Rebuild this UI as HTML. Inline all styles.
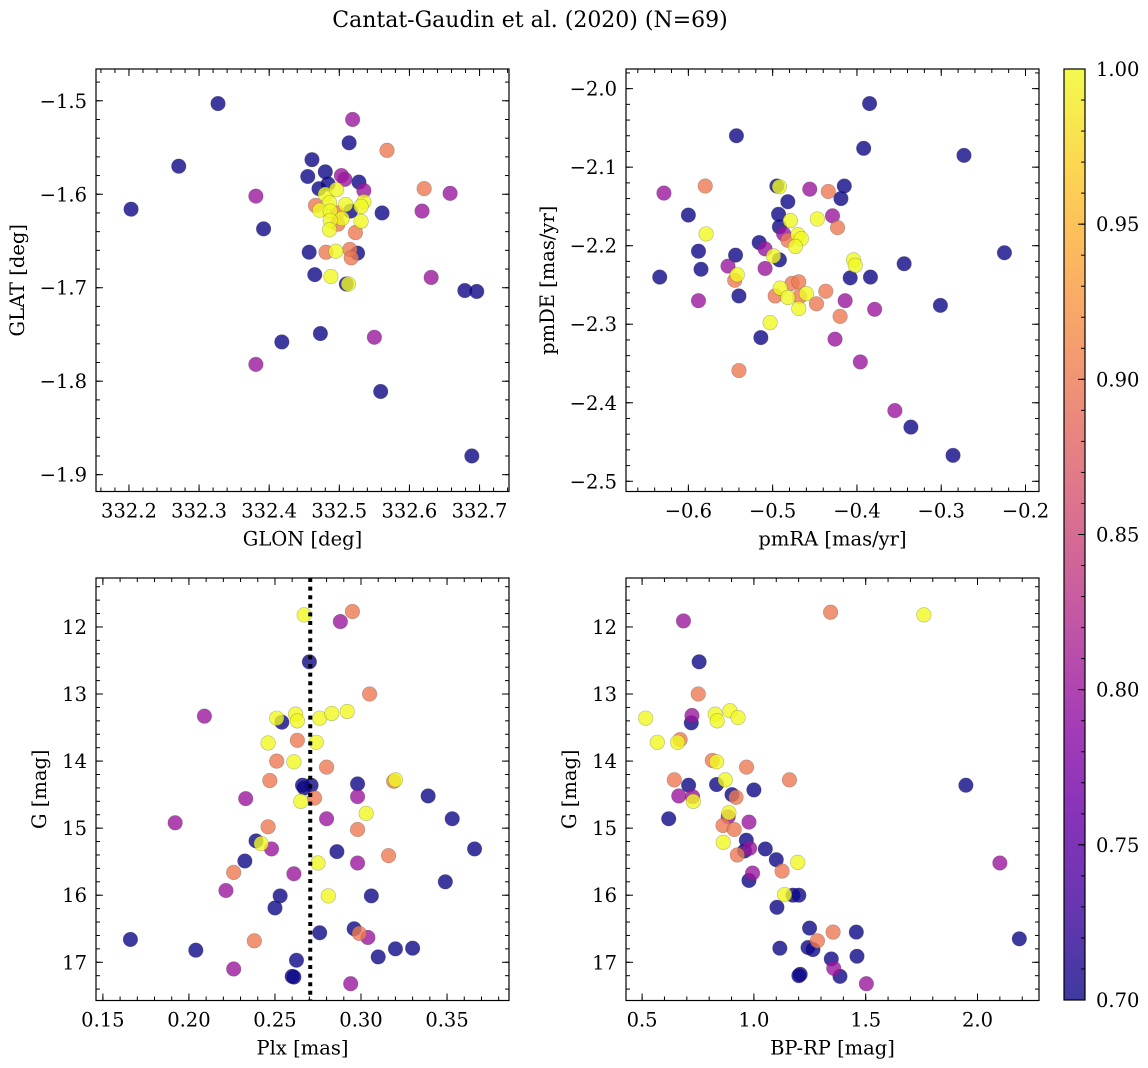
<!DOCTYPE html>
<html><head><meta charset="utf-8"><style>
html,body{margin:0;padding:0;background:#fff;}
svg{display:block;font-family:"DejaVu Serif","Liberation Serif",serif;}
</style></head><body>
<svg id="fig" width="1148" height="1068" viewBox="0 0 1148 1068" xmlns="http://www.w3.org/2000/svg">
<defs>
<linearGradient id="plasma" x1="0" y1="1" x2="0" y2="0">
<stop offset="0" stop-color="#0d0887"/><stop offset="0.1" stop-color="#41049d"/><stop offset="0.2" stop-color="#6a00a8"/><stop offset="0.3" stop-color="#8f0da4"/><stop offset="0.4" stop-color="#b12a90"/><stop offset="0.5" stop-color="#cc4778"/><stop offset="0.6" stop-color="#e16462"/><stop offset="0.7" stop-color="#f2844b"/><stop offset="0.8" stop-color="#fca636"/><stop offset="0.9" stop-color="#fcce25"/><stop offset="1" stop-color="#f0f921"/>
</linearGradient>
</defs>
<text x="530" y="27" font-size="22" text-anchor="middle">Cantat-Gaudin et al. (2020) (N=69)</text>
</svg>
<script>
// ---- data ----
const p1Glon=[332.327,332.271,332.203,332.381,332.392,332.381,332.418,332.473,332.519,332.514,332.568,332.461,332.455,332.480,332.503,332.508,332.528,332.535,332.471,332.484,332.621,332.658,332.618,332.561,332.466,332.480,332.496,332.486,332.509,332.472,332.487,332.497,332.516,332.535,332.531,332.504,332.487,332.498,332.486,332.531,332.523,332.457,332.481,332.495,332.515,332.526,332.517,332.465,332.488,332.510,332.513,332.631,332.679,332.696,332.550,332.559,332.689];
const p1Glat=[-1.503,-1.570,-1.616,-1.602,-1.637,-1.782,-1.758,-1.749,-1.520,-1.545,-1.553,-1.563,-1.581,-1.576,-1.580,-1.584,-1.587,-1.596,-1.594,-1.589,-1.594,-1.599,-1.618,-1.620,-1.612,-1.600,-1.595,-1.609,-1.611,-1.617,-1.618,-1.620,-1.618,-1.608,-1.613,-1.626,-1.628,-1.632,-1.638,-1.629,-1.641,-1.662,-1.662,-1.661,-1.659,-1.663,-1.668,-1.686,-1.688,-1.696,-1.696,-1.689,-1.703,-1.704,-1.753,-1.811,-1.880];
const p1Prob=[0.7,0.7,0.7,0.8,0.7,0.8,0.7,0.7,0.8,0.7,0.9,0.7,0.7,0.7,0.8,0.8,0.7,0.8,0.7,0.7,0.9,0.8,0.8,0.7,0.9,1,1,1,1,1,1,0.9,0.7,1,1,1,1,0.9,1,1,0.9,0.7,0.9,1,0.9,0.7,0.9,0.7,1,0.7,1,0.8,0.7,0.7,0.8,0.7,0.7];

const p2Pmra=[-0.385,-0.543,-0.392,-0.273,-0.629,-0.580,-0.495,-0.492,-0.456,-0.434,-0.415,-0.419,-0.482,-0.600,-0.493,-0.479,-0.447,-0.429,-0.423,-0.492,-0.579,-0.487,-0.482,-0.470,-0.466,-0.473,-0.516,-0.509,-0.499,-0.492,-0.588,-0.544,-0.404,-0.402,-0.344,-0.225,-0.634,-0.585,-0.553,-0.509,-0.542,-0.545,-0.477,-0.469,-0.408,-0.384,-0.540,-0.588,-0.497,-0.491,-0.482,-0.468,-0.460,-0.437,-0.448,-0.469,-0.414,-0.379,-0.420,-0.301,-0.503,-0.514,-0.426,-0.396,-0.540,-0.355,-0.336,-0.286];
const p2Pmde=[-2.019,-2.060,-2.076,-2.085,-2.133,-2.124,-2.124,-2.125,-2.128,-2.131,-2.124,-2.140,-2.144,-2.161,-2.160,-2.168,-2.166,-2.162,-2.177,-2.176,-2.185,-2.185,-2.193,-2.186,-2.191,-2.201,-2.196,-2.204,-2.213,-2.218,-2.207,-2.212,-2.218,-2.225,-2.223,-2.209,-2.240,-2.230,-2.226,-2.229,-2.237,-2.244,-2.248,-2.246,-2.241,-2.240,-2.264,-2.270,-2.264,-2.254,-2.266,-2.265,-2.261,-2.258,-2.274,-2.280,-2.270,-2.281,-2.290,-2.276,-2.298,-2.317,-2.319,-2.348,-2.359,-2.410,-2.431,-2.467];
const p2Prob=[0.7,0.7,0.7,0.7,0.8,0.9,0.7,1,0.8,0.9,0.7,0.7,0.7,0.7,0.7,1,1,0.8,0.9,0.7,1,0.8,0.9,1,1,1,0.7,0.8,1,0.7,0.7,0.7,1,1,0.7,0.7,0.7,0.7,0.8,0.8,1,0.9,0.9,0.9,0.7,0.7,0.7,0.8,0.9,1,1,0.9,1,0.9,0.9,1,0.8,0.8,0.9,0.7,1,0.7,0.8,0.8,0.9,0.8,0.7,0.7];

const p3Plx=[0.267,0.270,0.209,0.251,0.254,0.262,0.263,0.246,0.263,0.251,0.261,0.247,0.266,0.267,0.265,0.233,0.192,0.246,0.239,0.242,0.248,0.2325,0.226,0.261,0.2215,0.253,0.250,0.166,0.204,0.238,0.226,0.2625,0.260,0.261,0.295,0.288,0.305,0.276,0.283,0.292,0.274,0.280,0.271,0.273,0.298,0.319,0.320,0.298,0.339,0.280,0.303,0.353,0.298,0.286,0.366,0.316,0.275,0.298,0.349,0.281,0.306,0.276,0.296,0.299,0.304,0.320,0.330,0.310,0.294];
const p3G=[11.82,12.52,13.33,13.36,13.42,13.30,13.40,13.73,13.69,14.0,14.01,14.29,14.36,14.40,14.60,14.56,14.92,14.98,15.19,15.23,15.31,15.49,15.66,15.68,15.93,16.01,16.19,16.66,16.82,16.68,17.10,16.97,17.21,17.22,11.77,11.92,13.0,13.36,13.29,13.26,13.72,14.09,14.36,14.55,14.34,14.30,14.28,14.53,14.52,14.86,14.78,14.86,15.02,15.35,15.31,15.41,15.52,15.52,15.80,16.01,16.01,16.56,16.50,16.57,16.63,16.80,16.79,16.92,17.32];
const p3Prob=[1,0.7,0.8,1,0.7,1,1,1,0.9,0.9,1,0.9,0.7,0.7,1,0.8,0.8,0.9,0.7,1,0.8,0.7,0.9,0.8,0.8,0.7,0.7,0.7,0.7,0.9,0.8,0.7,0.7,0.7,0.9,0.8,0.9,1,1,1,1,0.9,0.7,0.9,0.7,0.9,1,0.8,0.7,0.8,1,0.7,0.9,0.7,0.7,0.9,1,0.8,0.7,1,0.7,0.7,0.7,0.9,0.8,0.7,0.7,0.7,0.8];
const plxRef=0.2705;

const p4Bprp=[0.516,0.751,0.720,0.723,0.568,0.670,0.659,0.827,0.836,0.893,0.929,0.644,0.708,0.664,0.726,0.729,0.619,0.814,0.833,0.967,0.833,0.872,0.902,0.920,1.0,0.885,0.888,0.862,0.912,0.978,0.863,0.966,0.958,0.981,1.051,1.100,0.926,1.126,0.994,0.978,1.103,1.116,1.207,1.137,1.159,1.196,1.343,1.760,1.948,2.100,1.175,1.201,1.249,1.284,1.354,1.458,1.242,1.264,1.346,1.461,1.357,1.201,1.385,1.503,2.187,0.685,0.755];
const p4G=[13.36,13.00,13.43,13.32,13.72,13.68,13.72,13.30,13.40,13.25,13.35,14.28,14.36,14.52,14.53,14.60,14.86,13.99,14.01,14.09,14.35,14.28,14.50,14.54,14.43,14.83,14.77,14.96,15.02,14.91,15.21,15.18,15.34,15.30,15.31,15.47,15.40,15.64,15.67,15.78,16.18,16.79,17.18,15.99,14.28,15.51,11.78,11.82,14.36,15.52,16.0,16.0,16.49,16.68,16.55,16.55,16.78,16.81,16.95,16.91,17.09,17.20,17.21,17.32,16.65,11.91,12.52];
const p4Prob=[1,0.9,0.7,0.8,1,0.9,1,1,1,1,1,0.9,0.7,0.8,0.8,1,0.7,0.9,1,0.9,0.7,1,0.7,0.9,0.7,0.8,1,0.9,0.9,0.8,1,0.7,0.7,0.8,0.7,0.7,0.9,0.9,0.8,0.7,0.7,0.7,0.7,1,0.9,1,0.9,1,0.7,0.8,0.7,0.7,0.7,0.9,0.9,0.7,0.7,0.7,0.7,0.7,0.8,0.7,0.7,0.8,0.7,0.8,0.7];

const cbTicks=[0.70,0.75,0.80,0.85,0.90,0.95,1.00];

// ---- drawing ----
const NS='http://www.w3.org/2000/svg';
const svg=document.getElementById('fig');
const FS=19.5;
function mk(tag,attrs,parent){const e=document.createElementNS(NS,tag);for(const k in attrs)e.setAttribute(k,attrs[k]);(parent||svg).appendChild(e);return e;}
const stops=['#0d0887','#41049d','#6a00a8','#8f0da4','#b12a90','#cc4778','#e16462','#f2844b','#fca636','#fcce25','#f0f921'];
function hex(h){return[parseInt(h.substr(1,2),16),parseInt(h.substr(3,2),16),parseInt(h.substr(5,2),16)];}
function plasma(t){t=Math.max(0,Math.min(1,t));const s=t*10,i=Math.min(9,Math.floor(s)),f=s-i;const a=hex(stops[i]),b=hex(stops[i+1]);return 'rgb('+a.map((v,k)=>Math.round(v+(b[k]-v)*f)).join(',')+')';}
const vmin=0.7,vmax=1.0;
function fmt(v,d){return (v<0?'\u2212':'')+Math.abs(v).toFixed(d);}
function range(lo,hi,step){const out=[];const n=Math.round((hi-lo)/step);for(let i=0;i<=n;i++)out.push(lo+i*step);return out;}

function panel(o){
  const g=mk('g',{});
  
  
  const sx=v=>o.x0+(v-o.xl[0])/(o.xl[1]-o.xl[0])*(o.x1-o.x0);
  const sy=v=>o.y1-(v-o.yl[0])/(o.yl[1]-o.yl[0])*(o.y1-o.y0);
  const idx=o.xs.map((_,i)=>i).sort((a,b)=>o.c[a]-o.c[b]);
  const pts=mk('g',{},g);
  
  
  idx.forEach(i=>{
    const c=mk('circle',{cx:sx(o.xs[i]),cy:sy(o.ys[i]),r:7.3,fill:plasma((o.c[i]-vmin)/(vmax-vmin)),'fill-opacity':0.8,stroke:'rgba(60,60,60,0.35)','stroke-width':0.6},pts);
    
    
  });
  if(o.vline!==undefined){
    const l=mk('line',{x1:sx(o.vline),x2:sx(o.vline),y1:o.y0,y2:o.y1,stroke:'#000','stroke-width':4,'stroke-dasharray':'4 4.6'},g);
    
    
  }
  const fr=mk('rect',{x:o.x0,y:o.y0,width:o.x1-o.x0,height:o.y1-o.y0,fill:'none',stroke:'#000','stroke-width':1.2},g);
  
  
  const tk=mk('g',{stroke:'#000','stroke-width':1},g);
  
  
  const inX=v=>v>=Math.min(...o.xl)-1e-9&&v<=Math.max(...o.xl)+1e-9;
  const inY=v=>v>=Math.min(...o.yl)-1e-9&&v<=Math.max(...o.yl)+1e-9;
  o.xmin.filter(inX).forEach(v=>{const x=sx(v);mk('line',{x1:x,x2:x,y1:o.y1,y2:o.y1-4},tk);mk('line',{x1:x,x2:x,y1:o.y0,y2:o.y0+4},tk);});
  o.ymin.filter(inY).forEach(v=>{const y=sy(v);mk('line',{x1:o.x0,x2:o.x0+4,y1:y,y2:y},tk);mk('line',{x1:o.x1,x2:o.x1-4,y1:y,y2:y},tk);});
  o.xmaj.forEach(v=>{const x=sx(v);mk('line',{x1:x,x2:x,y1:o.y1,y2:o.y1-7},tk);mk('line',{x1:x,x2:x,y1:o.y0,y2:o.y0+7},tk);
    const t=mk('text',{x:x,y:o.y1+26,'font-size':FS,'text-anchor':'middle'},g);t.textContent=fmt(v,o.xd);
    });
  o.ymaj.forEach(v=>{const y=sy(v);mk('line',{x1:o.x0,x2:o.x0+7,y1:y,y2:y},tk);mk('line',{x1:o.x1,x2:o.x1-7,y1:y,y2:y},tk);
    const t=mk('text',{x:o.x0-9,y:y+7,'font-size':FS,'text-anchor':'end'},g);t.textContent=fmt(v,o.yd);
    });
  const xt=mk('text',{x:(o.x0+o.x1)/2,y:o.y1+54,'font-size':FS,'text-anchor':'middle'},g);xt.textContent=o.xlab;
  
  const yt=mk('text',{x:o.ylx,y:(o.y0+o.y1)/2,'font-size':FS,'text-anchor':'middle',transform:'rotate(-90 '+o.ylx+' '+((o.y0+o.y1)/2)+')'},g);yt.textContent=o.ylab;
  
}

panel({name:'glon-glat-panel',x0:96,x1:509,y0:69,y1:491.5,xl:[332.153,332.742],yl:[-1.918,-1.466],xs:p1Glon,ys:p1Glat,c:p1Prob,
  xmaj:range(332.2,332.7,0.1),xmin:range(332.16,332.74,0.02),ymaj:range(-1.9,-1.5,0.1),ymin:range(-1.92,-1.46,0.02),xd:1,yd:1,xlab:'GLON [deg]',ylab:'GLAT [deg]',ylx:24});
panel({name:'proper-motion-panel',x0:626,x1:1039,y0:69,y1:491.5,xl:[-0.674,-0.184],yl:[-2.513,-1.975],xs:p2Pmra,ys:p2Pmde,c:p2Prob,
  xmaj:range(-0.6,-0.2,0.1),xmin:range(-0.68,-0.18,0.02),ymaj:range(-2.5,-2.0,0.1),ymin:range(-2.52,-1.96,0.02),xd:1,yd:1,xlab:'pmRA [mas/yr]',ylab:'pmDE [mas/yr]',ylx:554});
panel({name:'parallax-mag-panel',x0:96,x1:509,y0:578,y1:1000.5,xl:[0.146,0.386],yl:[17.57,11.27],xs:p3Plx,ys:p3G,c:p3Prob,vline:plxRef,
  xmaj:range(0.15,0.35,0.05),xmin:range(0.14,0.39,0.01),ymaj:range(12,17,1),ymin:range(11.2,17.6,0.2),xd:2,yd:0,xlab:'Plx [mas]',ylab:'G [mag]',ylx:46});
panel({name:'color-mag-panel',x0:626,x1:1039,y0:578,y1:1000.5,xl:[0.428,2.275],yl:[17.57,11.27],xs:p4Bprp,ys:p4G,c:p4Prob,
  xmaj:range(0.5,2.0,0.5),xmin:range(0.5,2.2,0.1),ymaj:range(12,17,1),ymin:range(11.2,17.6,0.2),xd:1,yd:0,xlab:'BP-RP [mag]',ylab:'G [mag]',ylx:576});

// colorbar
(function(){
  const x0=1064,x1=1085,y0=69,y1=1000;
  const g=mk('g',{});
  
  
  const r=mk('rect',{x:x0,y:y0,width:x1-x0,height:y1-y0,fill:'url(#plasma)','fill-opacity':0.8,stroke:'#000','stroke-width':1.2},g);
  
  
  const sy=v=>y1-(v-vmin)/(vmax-vmin)*(y1-y0);
  range(0.70,1.00,0.01).forEach(v=>{const y=sy(v);mk('line',{x1:x1,x2:x1-4,y1:y,y2:y,stroke:'#000','stroke-width':1},g);});
  cbTicks.forEach(v=>{const y=sy(v);mk('line',{x1:x1,x2:x1-7,y1:y,y2:y,stroke:'#000','stroke-width':1},g);
    const t=mk('text',{x:x1+11,y:y+7,'font-size':FS},g);t.textContent=v.toFixed(2);
    });
})();
</script>
</body></html>
